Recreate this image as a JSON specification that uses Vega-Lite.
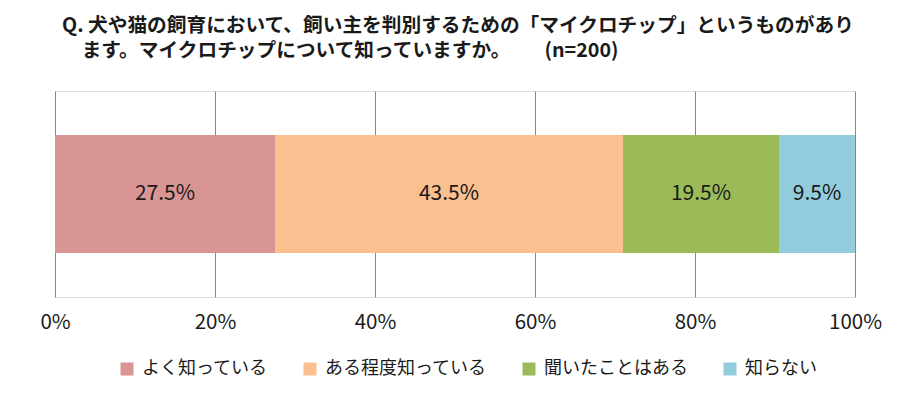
{
  "$schema": "https://vega.github.io/schema/vega-lite/v6.json",
  "width": 800,
  "height": 206,
  "autosize": {"type": "none"},
  "padding": {"left": 55, "top": 91, "right": 67, "bottom": 102},
  "background": "white",
  "title": {
    "text": ["Q. 犬や猫の飼育において、飼い主を判別するための「マイクロチップ」というものがあり", "\u200b\u2002\u2002ます。マイクロチップについて知っていますか。\u3000\u3000\u00a0(n=200)"],
    "anchor": "start",
    "frame": "group",
    "dx": 7,
    "offset": 30,
    "font": "Noto Sans CJK JP",
    "fontSize": 19.7,
    "fontWeight": "bold",
    "color": "#1a1a1a",
    "lineHeight": 25
  },
  "data": {
    "values": [
      {"q": "Q", "answer": "よく知っている", "share": 0.275, "rank": 1},
      {"q": "Q", "answer": "ある程度知っている", "share": 0.435, "rank": 2},
      {"q": "Q", "answer": "聞いたことはある", "share": 0.195, "rank": 3},
      {"q": "Q", "answer": "知らない", "share": 0.095, "rank": 4}
    ]
  },
  "transform": [
    {"stack": "share", "groupby": ["q"], "sort": [{"field": "rank", "order": "ascending"}], "as": ["start", "end"]}
  ],
  "encoding": {
    "y": {"field": "q", "type": "nominal", "axis": null, "scale": {"paddingInner": 0, "paddingOuter": 0.373}}
  },
  "layer": [
    {
      "mark": {"type": "bar"},
      "encoding": {
        "x": {
          "field": "start", "type": "quantitative",
          "scale": {"domain": [0, 1], "nice": false, "zero": true},
          "axis": {
            "orient": "bottom",
            "values": [0, 0.2, 0.4, 0.6, 0.8, 1],
            "format": ".0%",
            "domain": false,
            "ticks": false,
            "grid": true,
            "gridColor": "#868686",
            "gridWidth": 1,
            "labelFont": "Noto Sans CJK JP",
            "labelFontSize": 20.5,
            "labelColor": "#1a1a1a",
            "labelPadding": 15,
            "labelFlush": false,
            "title": null
          }
        },
        "x2": {"field": "end"},
        "color": {
          "field": "answer", "type": "nominal",
          "scale": {
            "domain": ["よく知っている", "ある程度知っている", "聞いたことはある", "知らない"],
            "range": ["#D99594", "#FAC090", "#9BBB59", "#93CDDD"]
          },
          "legend": {
            "orient": "none",
            "legendX": 63,
            "legendY": 269,
            "direction": "horizontal",
            "title": null,
            "symbolType": "square",
            "symbolSize": 169,
            "symbolStrokeWidth": 0,
            "symbolOpacity": 1,
            "labelFont": "Noto Sans CJK JP",
            "labelFontSize": 18,
            "labelColor": "#1a1a1a",
            "labelOffset": 6,
            "columnPadding": 33,
            "labelLimit": 300
          }
        }
      }
    },
    {
      "transform": [
        {"fold": ["start", "end"], "as": ["edge", "pos"]},
        {"aggregate": [{"op": "mean", "field": "pos", "as": "mid"}], "groupby": ["q", "answer", "share"]}
      ],
      "mark": {"type": "text", "font": "Noto Sans CJK JP", "fontSize": 21, "color": "#1a1a1a"},
      "encoding": {
        "x": {"field": "mid", "type": "quantitative"},
        "text": {"field": "share", "type": "quantitative", "format": ".1%"}
      }
    }
  ]
}
